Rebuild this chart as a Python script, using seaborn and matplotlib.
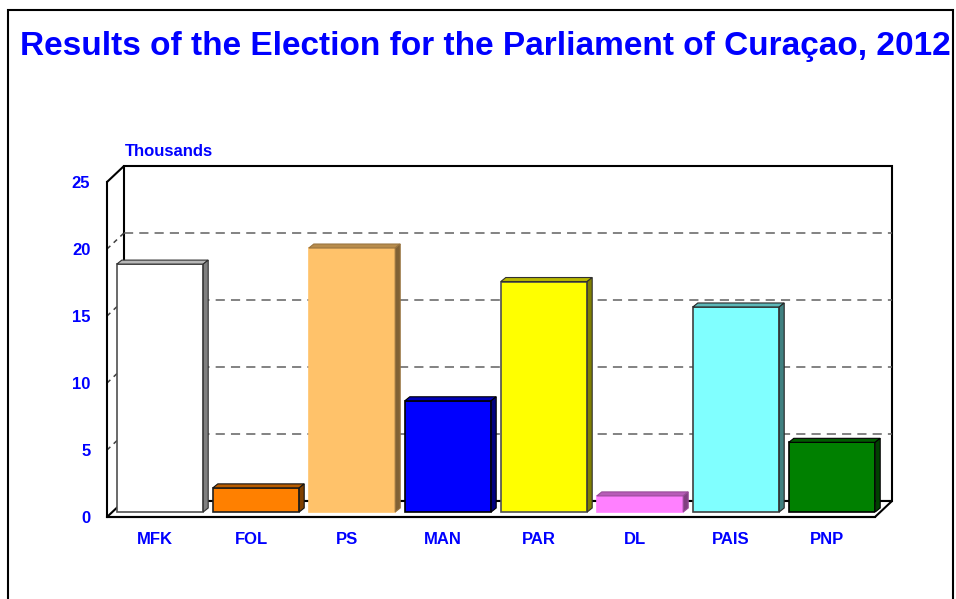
import seaborn as sns
import matplotlib.pyplot as plt
import pandas as pd
from matplotlib.patches import Polygon, Rectangle
from matplotlib.colors import to_rgb

parties = ['MFK', 'FOL', 'PS', 'MAN', 'PAR', 'DL', 'PAIS', 'PNP']
votes = [18.5, 1.8, 19.7, 8.3, 17.2, 1.2, 15.3, 5.2]   # thousands
colors = ['#FFFFFF', '#FF8000', '#FFC26A', '#0000FF', '#FFFF00', '#FF80FF', '#80FFFF', '#008000']
edges = ['#505050', '#202020', '#FFC26A', '#000000', '#505050', '#FF80FF', '#404040', '#000000']
yticks = [0, 5, 10, 15, 20, 25]

df = pd.DataFrame({'Party': parties, 'Votes': votes})

sns.set_style('white')
plt.rcParams['font.family'] = ['Liberation Sans', 'DejaVu Sans']

W, H = 956, 599
fig = plt.figure(figsize=(W / 100, H / 100), dpi=100)
# front plane of the box, in pixels
x0, x1, y0, y1 = 107, 875, 517, 182
ax = fig.add_axes([x0 / W, 1 - y0 / H, (x1 - x0) / W, (y0 - y1) / H])

sns.barplot(data=df, x='Party', y='Votes', hue='Party', palette=colors,
            saturation=1, legend=False, width=0.9, ax=ax, zorder=3)
ax.set_xlim(-0.5, 7.5)
ax.set_ylim(0, 25)

# pixel -> data helpers
px = (x1 - x0) / 8
py = (y0 - y1) / 25
DX, DY = 17 / px, 16 / py      # depth of the box
bx, by = 5 / px, 5 / py        # bars sit a bit back
dx, dy = 5 / px, 4 / py        # bar depth

def dark(c, f):
    r, g, b = to_rgb(c)
    return (r * f, g * f, b * f)

# back wall and floor
ax.add_patch(Polygon([(-0.5 + DX, DY), (7.5 + DX, DY), (7.5 + DX, 25 + DY), (-0.5 + DX, 25 + DY)],
                     closed=True, fc='white', ec='black', lw=1.5, clip_on=False, zorder=0))
ax.add_patch(Polygon([(-0.5, 0), (7.5, 0), (7.5 + DX, DY), (-0.5 + DX, DY)],
                     closed=True, fc='white', ec='black', lw=1.5, clip_on=False, zorder=1))
ax.plot([-0.5, -0.5 + DX], [25, 25 + DY], color='black', lw=1.5, clip_on=False, zorder=1)
for v in yticks[1:-1]:
    ax.plot([-0.5 + DX, 7.5 + DX], [v + DY, v + DY], color='#606060', lw=1.1,
            ls=(0, (6, 4)), clip_on=False, zorder=1)
    ax.plot([-0.5, -0.5 + DX], [v, v + DY], color='#404040', lw=1.1,
            ls=(0, (3, 3)), clip_on=False, zorder=1)

# 3d bars
for i, bar in enumerate([b for c in ax.containers for b in c]):
    bar.set_x(bar.get_x() + bx)
    bar.set_y(by)
    bar.set_edgecolor(edges[i])
    bar.set_linewidth(1.2)
    bl, w, h = bar.get_x(), bar.get_width(), bar.get_height()
    top = by + h
    fc = colors[i]
    ax.add_patch(Polygon([(bl, top), (bl + w, top), (bl + w + dx, top + dy), (bl + dx, top + dy)],
                         closed=True, fc=dark(fc, 0.72), ec=dark(edges[i], 0.6), lw=0.8,
                         clip_on=False, zorder=3))
    ax.add_patch(Polygon([(bl + w, by), (bl + w + dx, by + dy), (bl + w + dx, top + dy), (bl + w, top)],
                         closed=True, fc=dark(fc, 0.5), ec=dark(edges[i], 0.6), lw=0.8,
                         clip_on=False, zorder=3))

for s in ['top', 'right']:
    ax.spines[s].set_visible(False)
for s in ['left', 'bottom']:
    ax.spines[s].set_color('black')
    ax.spines[s].set_linewidth(1.5)
    ax.spines[s].set_zorder(2)
ax.patch.set_visible(False)

ax.set_yticks(yticks)
ax.set_xlabel('')
ax.set_ylabel('')
ax.tick_params(axis='y', length=0, pad=12, labelsize=12, labelcolor='#0000FF')
ax.tick_params(axis='x', length=0, pad=11, labelsize=12, labelcolor='#0000FF')
for t in ax.get_xticklabels() + ax.get_yticklabels():
    t.set_fontweight('bold')

fig.text(125 / W, 1 - 152 / H, 'Thousands', color='#0000FF', fontsize=12,
         fontweight='bold', ha='left', va='center')
fig.text(485 / W, 1 - 47 / H, 'Results of the Election for the Parliament of Curaçao, 2012',
         color='#0000FF', fontsize=24, fontweight='bold', ha='center', va='center')

fig.patches.append(Rectangle((8 / W, -0.1), (953 - 8) / W, 1.1 - 10 / H,
                             transform=fig.transFigure, fill=False, ec='black', lw=1.5))

fig.savefig('out.png', dpi=100)
